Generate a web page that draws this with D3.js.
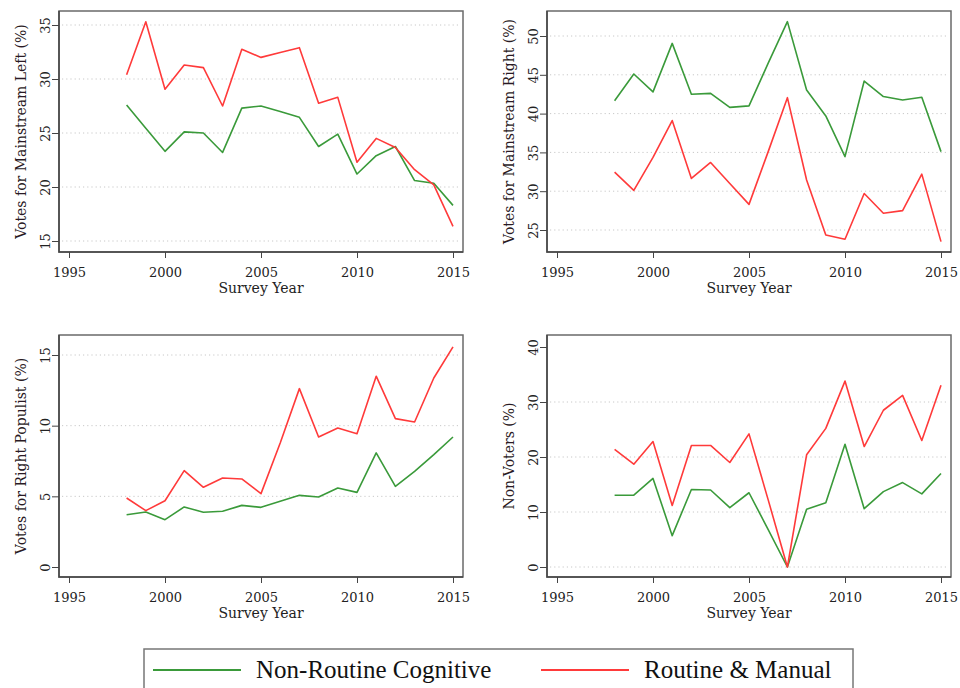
<!DOCTYPE html>
<html>
<head>
<meta charset="utf-8">
<script src="https://cdn.jsdelivr.net/npm/d3@7"></script>
<style>
  body { margin: 0; background: #fff; }
  .legText { font-family: 'Liberation Serif', 'Times New Roman', Times, 'DejaVu Serif', serif; }
</style>
</head>
<body>
<div id="chart"></div>
<script>
// Data
const years = [1998, 1999, 2000, 2001, 2002, 2003, 2004, 2005, 2006,
  2007, 2008, 2009, 2010, 2011, 2012, 2013, 2014, 2015];
const xTicks = [1995, 2000, 2005, 2010, 2015];

const seriesNames = ['Non-Routine Cognitive', 'Routine & Manual'];

const leftCognitive = [27.6, 25.45, 23.3, 25.1, 25.0, 23.2, 27.3, 27.5, 27.0,
  26.45, 23.75, 24.9, 21.2, 22.9, 23.75, 20.6, 20.35, 18.3];
const leftManual = [30.4, 35.3, 29.05, 31.3, 31.05, 27.5, 32.75, 32.0, 32.45,
  32.9, 27.75, 28.3, 22.3, 24.5, 23.65, 21.6, 20.2, 16.35];

const rightCognitive = [41.65, 45.1, 42.8, 49.05, 42.5, 42.6, 40.8, 41.0, 46.5,
  51.85, 43.05, 39.7, 34.45, 44.2, 42.2, 41.75, 42.1, 35.1];
const rightManual = [32.45, 30.1, 34.35, 39.1, 31.65, 33.7, 31.0, 28.3, 35.1,
  42.05, 31.45, 24.35, 23.8, 29.7, 27.15, 27.5, 32.2, 23.5];

const populistCognitive = [3.7, 3.89, 3.35, 4.25, 3.87, 3.94, 4.36, 4.22, 4.65,
  5.07, 4.95, 5.59, 5.28, 8.07, 5.71, 6.77, 7.95, 9.2];
const populistManual = [4.88, 3.99, 4.69, 6.82, 5.64, 6.3, 6.23, 5.19, 8.77,
  12.62, 9.2, 9.83, 9.43, 13.5, 10.5, 10.26, 13.37, 15.57];

const nonVoterCognitive = [13.05, 13.05, 16.1, 5.7, 14.1, 14.0, 10.8, 13.5, 6.8,
  0, 10.5, 11.7, 22.3, 10.6, 13.7, 15.35, 13.3, 17.0];
const nonVoterManual = [21.4, 18.7, 22.8, 11.2, 22.1, 22.1, 19.0, 24.2, 12.2,
  0, 20.4, 25.2, 33.8, 21.9, 28.5, 31.2, 23.0, 33.05];

const yTitles = ['Votes for Mainstream Left (%)', 'Votes for Mainstream Right (%)',
  'Votes for Right Populist (%)', 'Non-Voters (%)'];
const yTicksList = [[15, 20, 25, 30, 35], [25, 30, 35, 40, 45, 50],
  [0, 5, 10, 15], [0, 10, 20, 30, 40]];
const yGrids = [[15, 20, 25, 30, 35], [25, 30, 35, 40, 45, 50],
  [5, 10, 15], [0, 10, 20, 30]];

// Layout
const width = 960;
const height = 688;
const frameW = 404;
const colors = ['#3a9a3a', '#ff3a3a'];
const textColor = '#222';
const serif = '"DejaVu Serif", serif';

const panels = [
  { x: 59, y: 11, h: 241, yr: [230, 14], data: [leftCognitive, leftManual] },
  { x: 547, y: 11, h: 241, yr: [219, 25], data: [rightCognitive, rightManual] },
  { x: 59, y: 335, h: 242, yr: [232, 20], data: [populistCognitive, populistManual] },
  { x: 547, y: 335, h: 242, yr: [232, 12], data: [nonVoterCognitive, nonVoterManual] },
];

const svg = d3
  .select('#chart')
  .append('svg')
  .attr('width', width)
  .attr('height', height);

panels.forEach((p, i) => {
  const yTicks = yTicksList[i];
  const g = svg.append('g').attr('transform', `translate(${p.x},${p.y})`);

  const x = d3.scaleLinear().domain([1995, 2015]).range([10, 394]);
  const y = d3
    .scaleLinear()
    .domain([yTicks[0], yTicks[yTicks.length - 1]])
    .range(p.yr);

  // Dotted gridlines
  g.selectAll('.grid')
    .data(yGrids[i])
    .enter()
    .append('line')
    .attr('x1', 3)
    .attr('x2', frameW - 2)
    .attr('y1', (d) => y(d))
    .attr('y2', (d) => y(d))
    .attr('stroke', '#c8c8c8')
    .attr('stroke-width', 1)
    .attr('stroke-dasharray', '1.2,3');

  // Frame
  g.append('rect')
    .attr('width', frameW)
    .attr('height', p.h)
    .attr('fill', 'none')
    .attr('stroke', '#6a6a6a')
    .attr('stroke-width', 1.5);

  // Lines
  const line = d3
    .line()
    .x((d, j) => x(years[j]))
    .y((d) => y(d));

  p.data.forEach((vals, k) => {
    g.append('path')
      .datum(vals)
      .attr('d', line)
      .attr('fill', 'none')
      .attr('stroke', colors[k])
      .attr('stroke-width', 1.6)
      .attr('stroke-linejoin', 'round');
  });

  // Y axis
  const yAxis = g
    .append('g')
    .call(d3.axisLeft(y).tickValues(yTicks).tickSize(7).tickFormat(d3.format('d')));
  yAxis.select('.domain').remove();
  yAxis.selectAll('line').attr('stroke', '#444');
  yAxis
    .selectAll('text')
    .attr('x', 0)
    .attr('dy', 0)
    .attr('transform', 'translate(-9,0) rotate(-90)')
    .attr('text-anchor', 'middle')
    .style('font-family', serif)
    .style('font-size', '13px')
    .attr('fill', textColor);

  // X axis
  const xAxis = g
    .append('g')
    .attr('transform', `translate(0,${p.h})`)
    .call(d3.axisBottom(x).tickValues(xTicks).tickSize(6).tickFormat(d3.format('d')));
  xAxis.select('.domain').remove();
  xAxis.selectAll('line').attr('stroke', '#444');
  xAxis
    .selectAll('text')
    .attr('y', 25)
    .attr('dy', 0)
    .style('font-family', serif)
    .style('font-size', '13px')
    .attr('fill', textColor);

  // Left and bottom axis lines
  g.append('path')
    .attr('d', `M0,0V${p.h}H${frameW}`)
    .attr('fill', 'none')
    .attr('stroke', '#444')
    .attr('stroke-width', 1.5);

  // Axis titles
  g.append('text')
    .attr('x', frameW / 2)
    .attr('y', p.h + 41)
    .attr('text-anchor', 'middle')
    .style('font-family', serif)
    .style('font-size', '14px')
    .attr('fill', textColor)
    .text('Survey Year');

  g.append('text')
    .attr('transform', `translate(-33,${p.h / 2}) rotate(-90)`)
    .attr('text-anchor', 'middle')
    .style('font-family', serif)
    .style('font-size', '14px')
    .attr('fill', '#2a1a24')
    .text(yTitles[i]);
});

// Legend
const legend = svg.append('g').attr('transform', 'translate(144,649)');

legend
  .append('rect')
  .attr('width', 709)
  .attr('height', 60)
  .attr('fill', 'none')
  .attr('stroke', '#777')
  .attr('stroke-width', 1.5);

const legendX = [9, 397];

legend
  .selectAll('.legLine')
  .data(seriesNames)
  .enter()
  .append('line')
  .attr('x1', (d, i) => legendX[i])
  .attr('x2', (d, i) => legendX[i] + 88)
  .attr('y1', 21)
  .attr('y2', 21)
  .attr('stroke', (d, i) => colors[i])
  .attr('stroke-width', 2);

legend
  .selectAll('.legText')
  .data(seriesNames)
  .enter()
  .append('text')
  .attr('class', 'legText')
  .attr('x', (d, i) => legendX[i] + 103)
  .attr('y', 29)
  .style('font-size', '25px')
  .attr('fill', '#111')
  .text((d) => d);
</script>
</body>
</html>
